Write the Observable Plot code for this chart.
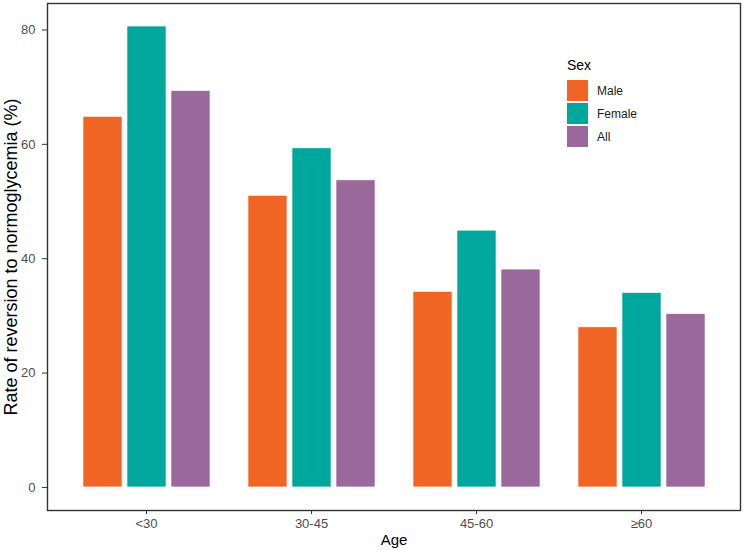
<!DOCTYPE html>
<html>
<head>
<meta charset="utf-8">
<script src="https://cdn.jsdelivr.net/npm/d3@7"></script>
<script src="https://cdn.jsdelivr.net/npm/@observablehq/plot@0.6"></script>
<style>
  body { margin: 0; background: #fff; font-family: "Liberation Sans", Arial, sans-serif; }
  #wrap { position: relative; width: 744px; height: 550px; }
  #chart svg { font-family: "Liberation Sans", Arial, sans-serif; }
  g[aria-label="y-axis tick label"] text, g[aria-label="fx-axis tick label"] text { fill: #4d4d4d; font-size: 13px; }
  g[aria-label="y-axis label"] text { font-size: 18px; fill: #000; }
  g[aria-label="fx-axis label"] text { font-size: 15px; fill: #000; }
  #legend { position: absolute; left: 567px; top: 57px; font-family: "Liberation Sans", Arial, sans-serif; }
  #legend .title { font-size: 14px; color: #000; margin-bottom: 6px; }
  #legend .row { display: flex; align-items: center; height: 23px; }
  #legend .sw { width: 21px; height: 21px; margin-right: 9px; }
  #legend .lab { font-size: 12px; color: #1a1a1a; }
</style>
</head>
<body>
<div id="wrap">
  <div id="chart"></div>
  <div id="legend"></div>
</div>
<script>
const ages = ["<30", "30-45", "45-60", "≥60"];
const sexes = ["Male", "Female", "All"];
const male = [64.8, 51.0, 34.2, 28.0];
const female = [80.6, 59.3, 44.9, 34.0];
const all = [69.3, 53.7, 38.1, 30.3];
const colors = ["#F06524", "#00A79C", "#9B689B"];
const yTicks = [0, 20, 40, 60, 80];

const series = [male, female, all];
const data = [];
ages.forEach((a, i) => sexes.forEach((s, j) => data.push({age: a, sex: s, value: series[j][i]})));

const ymax = d3.max(data, d => d.value);
const pad = ymax * 0.05;

const plot = Plot.plot({
  width: 744,
  height: 550,
  marginLeft: 46,
  marginRight: 4,
  marginTop: 3,
  marginBottom: 40,
  style: {fontSize: "13px", color: "#333", background: "#fff"},
  // ggplot-like discrete expansion: facets overlap so that the outer gap is 0.6 step
  fx: {domain: ages, paddingInner: -0.2, paddingOuter: 0},
  x: {domain: sexes, paddingInner: 0.12, paddingOuter: 0.8, axis: null},
  y: {domain: [-pad, ymax + pad]},
  color: {domain: sexes, range: colors},
  marks: [
    Plot.barY(data, {fx: "age", x: "sex", y: "value", fill: "sex", stroke: "#fff", strokeWidth: 0.6}),
    Plot.axisY({ticks: yTicks, tickSize: 5, tickPadding: 7, fontSize: 13, label: "Rate of reversion to normoglycemia (%)", labelAnchor: "center", labelArrow: "none", labelOffset: 43}),
    Plot.axisFx({anchor: "bottom", tickSize: 4, tickPadding: 4, fontSize: 13, label: "Age", labelAnchor: "center", labelArrow: "none", labelOffset: 34}),
    Plot.frame({facet: "super", stroke: "#333", strokeWidth: 1.4})
  ]
});
document.getElementById("chart").appendChild(plot);

const legend = d3.select("#legend");
legend.append("div").attr("class", "title").text("Sex");
sexes.forEach((s, i) => {
  const row = legend.append("div").attr("class", "row");
  row.append("div").attr("class", "sw").style("background", colors[i]);
  row.append("div").attr("class", "lab").text(s);
});
</script>
</body>
</html>
